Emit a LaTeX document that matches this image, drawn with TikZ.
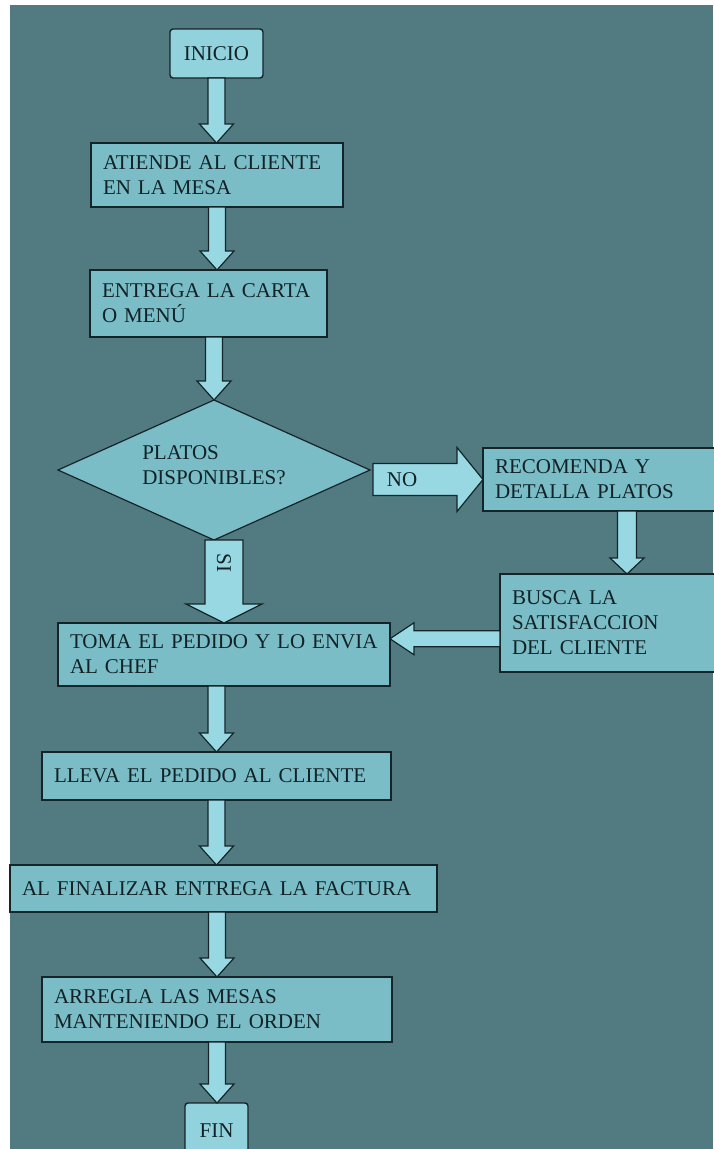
\documentclass[tikz,border=0pt]{standalone}
\usepackage{fontspec}
\setmainfont{Liberation Serif}
\usetikzlibrary{shapes.geometric,calc,positioning}

\definecolor{fondo}{RGB}{81,123,129}
\definecolor{relleno}{RGB}{122,189,199}
\definecolor{rellenoclaro}{RGB}{146,210,220}
\definecolor{rellenoflecha}{RGB}{152,216,226}
\definecolor{borde}{RGB}{20,36,40}
\definecolor{letra}{RGB}{18,34,38}

% flecha ancha: #1 origen, #2 punta, #3 medio cuerpo, #4 media punta, #5 largo punta
\newcommand{\flecha}[5]{%
  \coordinate (fa) at #1;
  \coordinate (fb) at #2;
  \coordinate (fh) at ($(fb)!#5!(fa)$);
  \draw[bloque] ($(fa)!#3!90:(fb)$) -- ($(fh)!#3!-90:(fa)$) -- ($(fh)!#4!-90:(fa)$) -- (fb)
    -- ($(fh)!#4!90:(fa)$) -- ($(fh)!#3!90:(fa)$) -- ($(fa)!#3!-90:(fb)$) -- cycle;
}

\begin{document}
\begin{tikzpicture}[x=1pt,y=-1pt,font=\fontsize{21}{25}\selectfont,text=letra,
    caja/.style={draw=borde, line width=1.4pt, fill=relleno, anchor=north west, align=left,
      inner xsep=12pt, inner ysep=3pt, outer sep=0pt},
    terminal/.style={draw=borde, line width=1.4pt, fill=rellenoclaro, rounded corners=3pt,
      anchor=north west, inner sep=2pt, outer sep=0pt},
    bloque/.style={draw=borde, line width=1.2pt, fill=rellenoflecha, line join=miter}]

    \useasboundingbox (0,0) rectangle (713,1149);
    \fill[white] (0,0) rectangle (713,1149);
    \fill[fondo] (10,5) rectangle (713,1149);

    \node[terminal, minimum width=93pt, minimum height=49pt] (inicio) at (170,29) {INICIO};
    \node[caja, text width=228pt, minimum height=64pt] (atiende) at (91,143) {ATIENDE AL CLIENTE\\EN LA MESA};
    \node[caja, text width=213pt, minimum height=67pt] (entrega) at (90,270) {ENTREGA LA CARTA\\O MENÚ};
    \node[diamond, aspect=2.23, draw=borde, line width=1.2pt, fill=relleno, minimum width=312pt, minimum height=140pt,
      inner sep=0pt, outer sep=0pt, align=left] (decision) at (214,470) {PLATOS\\DISPONIBLES?\\[-15pt]};
    \node[caja, text width=264pt, minimum height=63pt] (recomienda) at (483,448) {RECOMENDA Y\\DETALLA PLATOS};
    \node[caja, text width=230pt, minimum height=98pt] (busca) at (500,574) {BUSCA LA\\SATISFACCION\\DEL CLIENTE};
    \node[caja, text width=308pt, minimum height=63pt] (toma) at (58,623) {TOMA EL PEDIDO Y LO ENVIA\\AL CHEF};
    \node[caja, text width=325pt, minimum height=48pt] (lleva) at (42,752) {LLEVA EL PEDIDO AL CLIENTE};
    \node[caja, text width=403pt, minimum height=47pt] (factura) at (10,865) {AL FINALIZAR ENTREGA LA FACTURA};
    \node[caja, text width=326pt, minimum height=65pt] (arregla) at (42,977) {ARREGLA LAS MESAS\\MANTENIENDO EL ORDEN};
    \node[terminal, minimum width=63pt, minimum height=56pt] (fin) at (185,1103) {FIN};

    \coordinate (medio) at ($(busca.west)!.5!(toma.east)$);

    \flecha{(inicio.south)}{(inicio.south |- atiende.north)}{8.5pt}{17pt}{19pt}
    \flecha{(atiende.south)}{(atiende.south |- entrega.north)}{8.5pt}{17pt}{19pt}
    \flecha{(decision.north |- entrega.south)}{(decision.north)}{8.5pt}{17pt}{19pt}
    \flecha{(decision.south -| toma.north)}{(toma.north)}{19pt}{38pt}{19pt}
    \flecha{($(decision.east |- recomienda.west)+(3,0)$)}{(recomienda.west)}{16pt}{32pt}{26pt}
    \flecha{(recomienda.south)}{(recomienda.south |- busca.north)}{9.5pt}{17pt}{16pt}
    \flecha{(busca.west |- medio)}{(toma.east |- medio)}{8pt}{16pt}{24pt}
    \flecha{(lleva.north |- toma.south)}{(lleva.north)}{8.5pt}{17pt}{19pt}
    \flecha{(lleva.south)}{(lleva.south |- factura.north)}{8.5pt}{17pt}{19pt}
    \flecha{(arregla.north |- factura.south)}{(arregla.north)}{8.5pt}{17pt}{19pt}
    \flecha{(arregla.south)}{(arregla.south |- fin.north)}{8.5pt}{17pt}{19pt}

    \node (no) at ($(decision.east |- recomienda.west)+(32,0)$) {NO};
    \node[rotate=-90] (si) at ($(decision.south -| toma.north)+(0,23)$) {SI};
\end{tikzpicture}
\end{document}
